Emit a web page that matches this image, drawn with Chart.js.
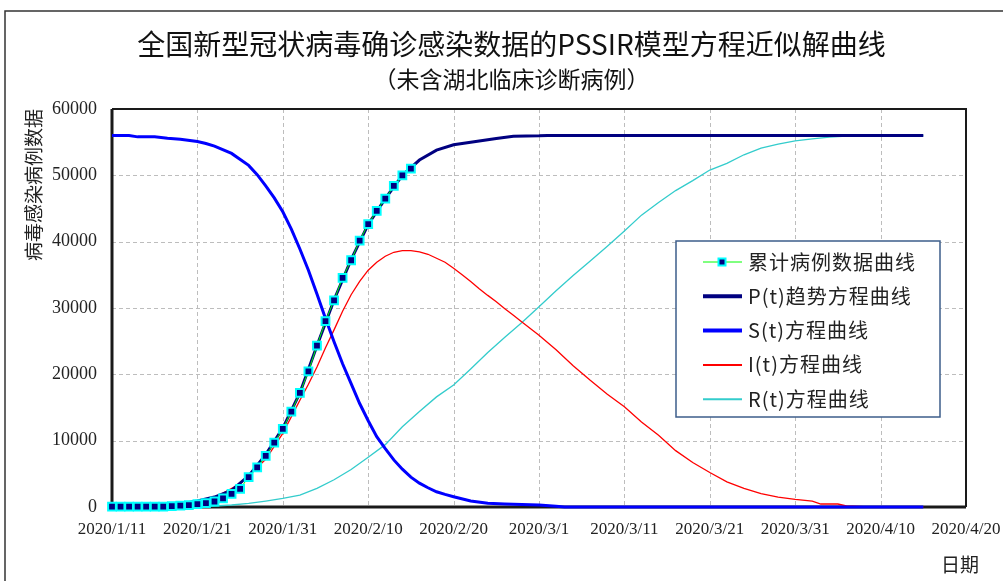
<!DOCTYPE html>
<html>
<head>
<meta charset="utf-8">
<script src="https://cdn.jsdelivr.net/npm/chart.js@4.4.0/dist/chart.umd.min.js"></script>
<style>
    html, body { margin: 0; padding: 0; background: #fff; }
    #wrap { width: 1003px; height: 581px; }
</style>
</head>
<body>
<div id="wrap"><canvas id="pssirChart" width="1003" height="581"></canvas></div>
<script>
// ─── DATA (days counted from 2020/1/11) ──────────────────────────────────────
const xTickLabels = ['2020/1/11', '2020/1/21', '2020/1/31', '2020/2/10', '2020/2/20', '2020/3/1',
                     '2020/3/11', '2020/3/21', '2020/3/31', '2020/4/10', '2020/4/20'];

// 累计病例 (daily markers)
const caseDays = [0, 1, 2, 3, 4, 5, 6, 7, 8, 9, 10, 11, 12, 13, 14, 15, 16, 17,
                  18, 19, 20, 21, 22, 23, 24, 25, 26, 27, 28, 29, 30, 31, 32, 33, 34, 35];
const caseValues = [41, 41, 41, 41, 41, 45, 62, 121, 198, 291, 440, 571, 830, 1287, 1975, 2744, 4515, 5974,
                    7711, 9692, 11791, 14380, 17205, 20438, 24324, 28018, 31161, 34546, 37198, 40171, 42638, 44653, 46472, 48400, 50000, 51000];

// P(t) 趋势
const pDays   = [0, 4, 6, 8, 10, 12, 14, 16, 18, 20, 22, 24, 26, 28, 30, 32, 34, 36, 38, 40, 42, 45, 47, 50, 51, 95];
const pValues = [100, 150, 250, 450, 900, 1500, 2500, 4700, 7900, 11900, 17200, 24300, 31200, 37300, 42600, 46500,
                 50000, 52300, 53800, 54600, 55000, 55550, 55900, 55950, 56000, 56000];

// S(t)
const sDays   = [0, 2, 3, 5, 6.5, 8, 10, 11, 12, 14, 16, 17, 18, 19, 20, 21, 22, 23, 24, 25, 26, 27, 28, 29, 30,
                 31, 32, 33, 34, 35, 36, 37, 38, 39, 40, 42, 44, 46, 48, 50, 52, 53, 95];
const sValues = [56000, 56000, 55800, 55800, 55600, 55450, 55100, 54800, 54400, 53300, 51500, 50100, 48400, 46600,
                 44500, 41900, 38900, 35700, 32100, 28400, 24900, 21600, 18600, 15600, 13000, 10600, 8800, 7100,
                 5700, 4500, 3600, 2900, 2300, 1900, 1550, 900, 550, 450, 380, 300, 100, 0, 0];

// I(t)
const iDays   = [0, 6, 8, 10, 12, 13, 15, 18, 20, 22, 23, 24, 25, 26, 27, 28, 29, 30, 31, 32, 33, 34, 35, 36, 37,
                 38, 39, 40, 41, 42, 43, 44, 45, 46, 47, 48, 50, 52, 54, 56, 58, 60, 62, 64, 66, 68, 70, 72, 74,
                 76, 78, 80, 82, 83, 85, 86, 88, 91, 95];
const iValues = [0, 100, 300, 800, 1500, 2100, 3500, 7200, 11100, 16100, 18500, 21100, 24000, 26700, 29500, 32000,
                 34000, 35700, 36900, 37800, 38400, 38650, 38650, 38450, 38100, 37500, 36900, 36000, 35000, 34000,
                 32900, 31900, 30950, 29900, 28900, 27900, 25900, 23700, 21300, 19100, 17000, 15100, 12800, 10800,
                 8500, 6700, 5200, 3800, 2800, 2000, 1500, 1150, 900, 450, 450, 150, 50, 0, 0];

// R(t)
const rDays   = [0, 10, 14, 16, 18, 20, 22, 24, 26, 28, 30, 32, 34, 36, 38, 40, 42, 44, 46, 48, 50, 52, 54, 56,
                 58, 60, 62, 64, 66, 68, 70, 72, 74, 76, 78, 80, 82, 84, 86, 88, 95];
const rValues = [0, 0, 300, 550, 900, 1300, 1800, 2800, 4100, 5650, 7500, 9400, 12100, 14400, 16600, 18400, 20800,
                 23300, 25600, 27800, 30200, 32600, 34900, 37100, 39300, 41600, 44000, 45900, 47700, 49200, 50800,
                 51800, 53100, 54100, 54700, 55200, 55500, 55750, 55930, 56000, 56000];

const CJK = "'Noto Sans CJK SC', 'Noto Sans', sans-serif";
const SERIF = "'Liberation Serif', 'DejaVu Serif', serif";

const toPoints = (days, vals) => days.map((d, i) => ({ x: d, y: vals[i] }));

// ─── PLUGINS: page frame, dashed grid + plot frame, legend box ───────────────
const pageFrame = {
    id: 'pageFrame',
    beforeDraw(chart) {
        const ctx = chart.ctx;
        ctx.save();
        ctx.fillStyle = '#fff';
        ctx.fillRect(0, 0, chart.width, chart.height);
        ctx.strokeStyle = '#333';
        ctx.lineWidth = 1.5;
        ctx.beginPath();
        ctx.moveTo(5, chart.height);
        ctx.lineTo(5, 11);
        ctx.lineTo(chart.width, 11);
        ctx.stroke();
        ctx.restore();
    },
    beforeDatasetsDraw(chart) {
        const { ctx, chartArea: a, scales } = chart;
        ctx.save();
        // dashed grid, positions from the scales' own ticks
        ctx.strokeStyle = '#bdbdbd';
        ctx.lineWidth = 1;
        ctx.setLineDash([4, 3]);
        ctx.beginPath();
        scales.x.ticks.forEach(t => {
            const px = Math.round(scales.x.getPixelForValue(t.value)) + 0.5;
            ctx.moveTo(px, a.top);
            ctx.lineTo(px, a.bottom);
        });
        scales.y.ticks.forEach(t => {
            const py = Math.round(scales.y.getPixelForValue(t.value)) + 0.5;
            ctx.moveTo(a.left, py);
            ctx.lineTo(a.right, py);
        });
        ctx.stroke();
        ctx.setLineDash([]);

        // plot frame
        ctx.strokeStyle = '#1a1a1a';
        ctx.lineWidth = 2;
        ctx.beginPath();
        ctx.moveTo(a.left, a.top);
        ctx.lineTo(a.right, a.top);
        ctx.lineTo(a.right, a.bottom);
        ctx.stroke();
        ctx.lineWidth = 3;
        ctx.beginPath();
        ctx.moveTo(a.left, a.top);
        ctx.lineTo(a.left, a.bottom);
        ctx.lineTo(a.right, a.bottom);
        ctx.stroke();

        // 日期
        ctx.fillStyle = '#222';
        ctx.font = '19px ' + CJK;
        ctx.textAlign = 'center';
        ctx.textBaseline = 'middle';
        ctx.fillText('日期', 960, 565);
        ctx.restore();
    }
};

const legendBox = {
    id: 'legendBox',
    afterDatasetsDraw(chart) {
        const ctx = chart.ctx;
        const bx = 676, by = 241, bw = 264, bh = 176;
        ctx.save();
        ctx.fillStyle = '#fff';
        ctx.fillRect(bx, by, bw, bh);
        ctx.strokeStyle = '#3d5d8a';
        ctx.lineWidth = 1.5;
        ctx.strokeRect(bx, by, bw, bh);
        ctx.font = '20px ' + CJK;
        ctx.textBaseline = 'middle';
        ctx.textAlign = 'left';
        if ('letterSpacing' in ctx) ctx.letterSpacing = '1px';
        chart.data.datasets.forEach((ds, i) => {
            const y = 262 + i * 34.3;
            ctx.strokeStyle = ds.borderColor;
            ctx.lineWidth = ds.borderWidth > 2 ? 4 : (i === 0 ? 1 : 2);
            ctx.beginPath();
            ctx.moveTo(703, y);
            ctx.lineTo(742, y);
            ctx.stroke();
            if (i === 0) {
                ctx.fillStyle = ds.pointBackgroundColor;
                ctx.strokeStyle = ds.pointBorderColor;
                ctx.lineWidth = 2;
                ctx.fillRect(718.5, y - 3.5, 7, 7);
                ctx.strokeRect(718.5, y - 3.5, 7, 7);
            }
            ctx.fillStyle = '#222';
            ctx.fillText(ds.label, 748, y);
        });
        ctx.restore();
    }
};

// ─── CHART ───────────────────────────────────────────────────────────────────
const ctx = document.getElementById('pssirChart').getContext('2d');
new Chart(ctx, {
    type: 'line',
    data: {
        datasets: [
            {
                label: '累计病例数据曲线',
                data: toPoints(caseDays, caseValues),
                borderColor: '#00ff00',
                borderWidth: 1,
                pointStyle: 'rect',
                pointRadius: 5.5,
                pointBackgroundColor: '#000080',
                pointBorderColor: '#00ffff',
                pointBorderWidth: 2,
                clip: false
            },
            {
                label: 'P(t)趋势方程曲线',
                data: toPoints(pDays, pValues),
                borderColor: '#000080',
                borderWidth: 3,
                pointRadius: 0,
                clip: false
            },
            {
                label: 'S(t)方程曲线',
                data: toPoints(sDays, sValues),
                borderColor: '#0000ff',
                borderWidth: 3,
                pointRadius: 0,
                clip: false
            },
            {
                label: 'I(t)方程曲线',
                data: toPoints(iDays, iValues),
                borderColor: '#ff0000',
                borderWidth: 1.3,
                pointRadius: 0,
                clip: false
            },
            {
                label: 'R(t)方程曲线',
                data: toPoints(rDays, rValues),
                borderColor: '#33cccc',
                borderWidth: 1.3,
                pointRadius: 0,
                clip: false
            }
        ]
    },
    options: {
        responsive: false,
        animation: false,
        devicePixelRatio: 1,
        layout: { padding: { left: 20, right: 0, top: 0, bottom: 0 } },
        plugins: {
            legend: { display: false },
            tooltip: { enabled: false },
            title: {
                display: true,
                text: '全国新型冠状病毒确诊感染数据的PSSIR模型方程近似解曲线',
                color: '#111',
                font: { family: CJK, size: 28, weight: 'normal' },
                padding: { top: 28, bottom: 4 }
            },
            subtitle: {
                display: true,
                text: '（未含湖北临床诊断病例）',
                color: '#111',
                font: { family: CJK, size: 23, weight: 'normal' },
                padding: { top: 0, bottom: 15.8 }
            }
        },
        scales: {
            x: {
                type: 'linear',
                min: 0,
                max: 100,
                ticks: {
                    stepSize: 10,
                    autoSkip: false,
                    maxRotation: 0,
                    padding: 0,
                    color: '#222',
                    font: { family: SERIF, size: 17 },
                    callback: v => xTickLabels[Math.round(v / 10)]
                },
                // invisible tick marks only push the labels down
                grid: { display: true, drawOnChartArea: false, drawTicks: true, tickLength: 12, tickColor: 'rgba(0,0,0,0)' },
                border: { display: false },
                afterFit: s => { s.height = 74; }
            },
            y: {
                min: 0,
                max: 60000,
                ticks: {
                    stepSize: 10000,
                    padding: 15,
                    color: '#222',
                    font: { family: SERIF, size: 18 },
                    callback: v => String(v)
                },
                grid: { display: false, drawTicks: false },
                border: { display: false },
                title: {
                    display: true,
                    text: '病毒感染病例数据',
                    align: 'end',
                    color: '#222',
                    font: { family: CJK, size: 19 },
                    padding: { top: 2, bottom: 0 }
                },
                afterFit: s => { s.width = 92; }
            },
            // empty right-hand spacer so the plot ends where the original does
            yRight: {
                position: 'right',
                display: true,
                grid: { display: false, drawOnChartArea: false },
                ticks: { display: false },
                border: { display: false },
                afterFit: s => { s.width = 37; }
            }
        }
    },
    plugins: [pageFrame, legendBox]
});
</script>
</body>
</html>
